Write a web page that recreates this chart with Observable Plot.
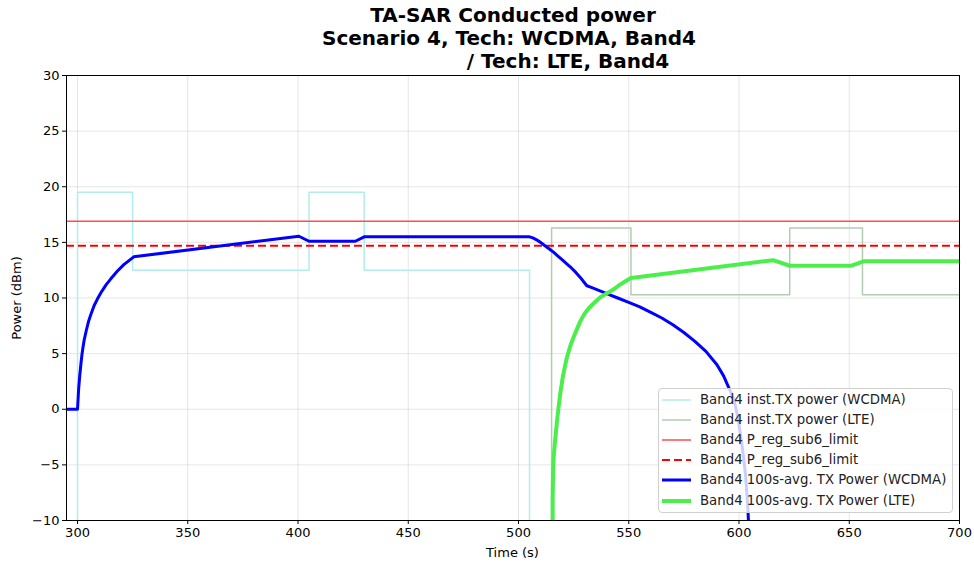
<!DOCTYPE html>
<html>
<head>
<meta charset="utf-8">
<script src="https://cdn.jsdelivr.net/npm/d3@7"></script>
<script src="https://cdn.jsdelivr.net/npm/@observablehq/plot@0.6"></script>
<style>
  body { margin: 0; background: white; }
  #wrap { position: relative; width: 974px; height: 565px; font-family: "DejaVu Sans", sans-serif; color: black; }
  .title { position: absolute; z-index: 3; font-weight: bold; font-size: 20px; white-space: nowrap; transform: translateX(-50%); line-height: 23px; }
  .lab { position: absolute; z-index: 3; font-size: 13px; white-space: nowrap; }
  #legend { position: absolute; z-index: 3; left: 658px; top: 388px; width: 295px; height: 125px; background: rgba(255,255,255,0.8); border: 1px solid #d0d0d0; border-radius: 4px; box-sizing: border-box; }
  .lrow { position: absolute; left: 0; height: 20px; font-size: 13.3px; white-space: nowrap; }
  .lrow svg { position: absolute; left: 3px; top: 0; }
  .lrow span { position: absolute; left: 41px; top: 1px; line-height: 18px; color: #222; }
</style>
</head>
<body>
<div id="wrap">
  <div id="chart" style="position:absolute; left:0; top:0; z-index:1;"></div>
  <div class="title" style="left:513px; top:4px;">TA-SAR Conducted power</div>
  <div class="title" style="left:509px; top:27px;">Scenario 4, Tech: WCDMA, Band4</div>
  <div class="title" style="left:568px; top:50px;">/ Tech: LTE, Band4</div>
  <div class="lab" style="left:512.5px; top:545px; transform:translateX(-50%);">Time (s)</div>
  <div class="lab" style="left:16px; top:297.5px; transform:translate(-50%,-50%) rotate(-90deg);">Power (dBm)</div>
  <div id="legend"></div>
</div>
<script>
// ---- data ----
const xTicks = [300, 350, 400, 450, 500, 550, 600, 650, 700];
const yTicks = [-10, -5, 0, 5, 10, 15, 20, 25, 30];

// instantaneous TX power (step-after); -100 means "off" (below the axis)
const wcdmaInstT = [295, 300, 325, 405, 430, 505, 700];
const wcdmaInstV = [-100, 19.5, 12.5, 19.5, 12.5, -100, -100];

const lteInstT = [295, 515, 551, 623, 656, 700];
const lteInstV = [-100, 16.3, 10.3, 16.3, 10.3, 10.3];

// regulatory limits
const pRegLimit = 16.9;
const pRegLimitAvg = 14.7;

// 100s-averaged TX power
const wcdmaAvgT = [295, 300, 300.5, 301, 301.5, 302, 302.5, 303, 304, 305, 306, 307.5, 309, 311, 313, 315, 318, 321, 325.5, 400.4, 405, 426, 430, 505, 506.5, 508, 510, 512, 514, 516, 518, 520, 522, 524, 526, 528, 530, 531, 533, 535, 540, 545, 550, 555, 560, 565, 570, 575, 580, 585, 590, 593, 595, 597, 598, 599, 600, 601, 602, 603, 604, 604.5, 605];
const wcdmaAvgV = [0, 0, 1.8, 3.0, 4.0, 4.9, 5.6, 6.2, 7.1, 7.9, 8.5, 9.3, 9.9, 10.6, 11.2, 11.7, 12.4, 13.0, 13.7, 15.55, 15.1, 15.1, 15.5, 15.5, 15.4, 15.25, 15.0, 14.7, 14.4, 14.1, 13.75, 13.4, 13.05, 12.7, 12.3, 11.85, 11.35, 11.1, 10.95, 10.8, 10.4, 10.0, 9.6, 9.2, 8.7, 8.2, 7.6, 6.9, 6.1, 5.2, 4.0, 3.0, 2.1, 1.2, 0.6, -0.3, -1.4, -2.7, -4.2, -6, -8.8, -11, -40];

const lteAvgT = [515.3, 515.5, 515.7, 516, 516.5, 517, 517.5, 518, 519, 520, 521, 522, 523.5, 525, 526.5, 528, 530, 532, 534.5, 537, 539, 541.7, 544, 546, 548.5, 551, 615.5, 623, 651, 656.5, 700];
const lteAvgV = [-40, -8, -5.5, -4.2, -3, -2.0, -1.0, -0.1, 1.5, 2.8, 3.8, 4.7, 5.7, 6.5, 7.2, 7.9, 8.6, 9.1, 9.6, 10.05, 10.3, 10.6, 10.9, 11.2, 11.5, 11.8, 13.4, 12.9, 12.9, 13.3, 13.3];

const legendLabels = [
  "Band4 inst.TX power (WCDMA)",
  "Band4 inst.TX power (LTE)",
  "Band4 P_reg_sub6_limit",
  "Band4 P_reg_sub6_limit",
  "Band4 100s-avg. TX Power (WCDMA)",
  "Band4 100s-avg. TX Power (LTE)"
];

// ---- styles ----
const styles = [
  {stroke: "#b2ecec", width: 1.5, dash: null},
  {stroke: "#b2ccb2", width: 1.5, dash: null},
  {stroke: "#ff4d4d", width: 1.5, dash: null},
  {stroke: "#ff0000", width: 2, dash: "8,4"},
  {stroke: "#0000ff", width: 3, dash: null},
  {stroke: "#4cee4c", width: 4, dash: null}
];

const zipTV = (T, V) => T.map((t, i) => ({t, v: V[i]}));
const wcdmaInst = zipTV(wcdmaInstT, wcdmaInstV);
const lteInst = zipTV(lteInstT, lteInstV);
const wcdmaAvg = zipTV(wcdmaAvgT, wcdmaAvgV);
const lteAvg = zipTV(lteAvgT, lteAvgV);

const fmt = d => d < 0 ? "\u2212" + Math.abs(d) : String(d);

const chart = Plot.plot({
  width: 974,
  height: 565,
  marginLeft: 66,
  marginRight: 15,
  marginTop: 75,
  marginBottom: 45,
  style: {fontFamily: "DejaVu Sans", fontSize: "13px", color: "black", background: "transparent", overflow: "visible"},
  x: {domain: [295, 700], ticks: xTicks, tickSize: 4, tickPadding: 3, grid: true, label: null},
  y: {domain: [-10, 30], ticks: yTicks, tickSize: 4, tickPadding: 3, grid: true, label: null, tickFormat: fmt},
  marks: [
    Plot.line(wcdmaInst, {x: "t", y: "v", curve: "step-after", stroke: styles[0].stroke, strokeWidth: styles[0].width, clip: true}),
    Plot.line(lteInst, {x: "t", y: "v", curve: "step-after", stroke: styles[1].stroke, strokeWidth: styles[1].width, clip: true}),
    Plot.ruleY([pRegLimit], {stroke: styles[2].stroke, strokeWidth: styles[2].width}),
    Plot.ruleY([pRegLimitAvg], {stroke: styles[3].stroke, strokeWidth: styles[3].width, strokeDasharray: styles[3].dash}),
    Plot.line(wcdmaAvg, {x: "t", y: "v", stroke: styles[4].stroke, strokeWidth: styles[4].width, clip: true}),
    Plot.line(lteAvg, {x: "t", y: "v", stroke: styles[5].stroke, strokeWidth: styles[5].width, clip: true}),
    Plot.frame({stroke: "black", strokeWidth: 1})
  ]
});
document.getElementById("chart").appendChild(chart);

// ---- legend ----
const leg = document.getElementById("legend");
legendLabels.forEach((label, i) => {
  const row = document.createElement("div");
  row.className = "lrow";
  row.style.top = (0.5 + i * 20.2) + "px";
  const s = styles[i];
  row.innerHTML = `<svg width="32" height="20"><line x1="0" x2="29" y1="10" y2="10" stroke="${s.stroke}" stroke-width="${s.width}" ${s.dash ? `stroke-dasharray="${s.dash}"` : ""}/></svg><span>${label}</span>`;
  leg.appendChild(row);
});
</script>
</body>
</html>
